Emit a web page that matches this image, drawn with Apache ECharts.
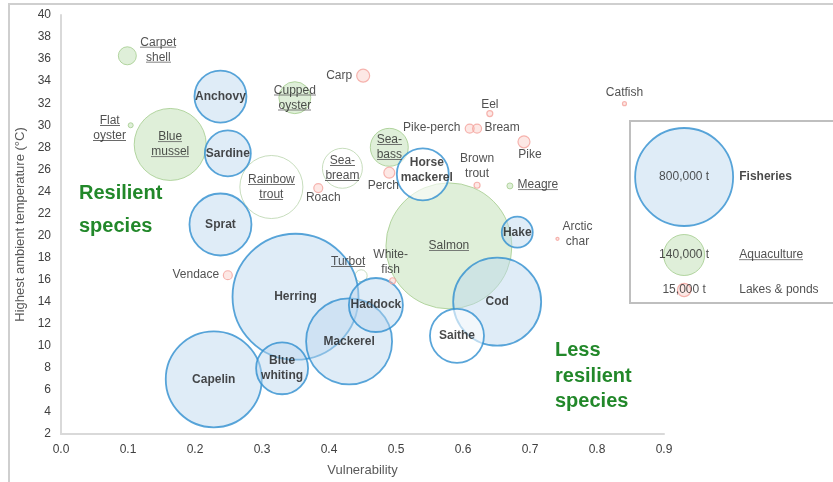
<!DOCTYPE html>
<html>
<head>
<meta charset="utf-8">
<script src="https://cdn.jsdelivr.net/npm/echarts@6/dist/echarts.min.js"></script>
<style>
  html, body { margin: 0; padding: 0; background: #fff; }
  #chart { width: 833px; height: 482px; }
</style>
</head>
<body>
<div id="chart"></div>
<script>
// fisheries
const fishNames = ['Anchovy', 'Sardine', 'Sprat', 'Herring', 'Capelin', 'Blue\nwhiting', 'Mackerel',
  'Haddock', 'Horse\nmackerel', 'Hake', 'Cod', 'Saithe'];
const fishVuln = [0.238, 0.249, 0.238, 0.35, 0.228, 0.33, 0.43, 0.47, 0.54, 0.681, 0.651, 0.591];
const fishTemp = [32.6, 27.45, 21.0, 14.45, 6.96, 7.96, 10.4, 13.7, 25.55, 20.3, 14.0, 10.9];
const fishTonnes = [225000, 176000, 320000, 1322000, 768000, 225000, 616000, 243000, 225000, 80000, 645000, 243000];

// aquaculture
const aquaNames = ['Carpet\nshell', 'Cupped\noyster', 'Flat\noyster', 'Blue\nmussel', 'Sea-\nbass',
  'Sea-\nbream', 'Rainbow\ntrout', 'Salmon', 'Turbot', 'Meagre'];
const aquaVuln = [0.099, 0.349, 0.104, 0.163, 0.49, 0.42, 0.314, 0.579, 0.448, 0.67];
const aquaTemp = [36.3, 32.5, 30.0, 28.26, 28.0, 26.1, 24.4, 19.06, 16.35, 24.5];
const aquaTonnes = [27000, 85000, 2100, 432000, 120000, 133000, 331000, 1322000, 12000, 3000];

// lakes & ponds
const lakeNames = ['Carp', 'Roach', 'Perch', 'Vendace', 'White-\nfish', 'Pike-perch', 'Bream', 'Eel',
  'Pike', 'Brown\ntrout', 'Catfish', 'Arctic\nchar'];
const lakeVuln = [0.451, 0.384, 0.49, 0.249, 0.495, 0.61, 0.621, 0.64, 0.691, 0.621, 0.841, 0.741];
const lakeTemp = [34.5, 24.3, 25.7, 16.4, 15.9, 29.7, 29.7, 31.06, 28.5, 24.56, 31.96, 19.7];
const lakeTonnes = [14000, 6700, 10000, 6700, 3000, 6700, 6700, 3000, 12000, 3000, 1300, 750];

// size legend
const legendNames = ['Fisheries', 'Aquaculture', 'Lakes & ponds'];
const legendTonnes = [800000, 140000, 15000];
const legendLabels = ['800,000 t', '140,000 t', '15,000 t'];

const xTicks = [0, 0.9, 0.1];
const yTicks = [2, 40, 2];

// label placement (pixel offsets from bubble centre)
const labelOffset = {
  'Carpet\nshell': [31, -6], 'Flat\noyster': [-21, 3], 'Turbot': [-13, -14], 'Meagre': [28, -1],
  'Carp': [-24, 0], 'Roach': [5, 10], 'Perch': [-6, 13], 'Vendace': [-32, -1], 'White-\nfish': [-2, -19],
  'Pike-perch': [-38, -1], 'Bream': [25, -1], 'Eel': [0, -9], 'Pike': [6, 13], 'Brown\ntrout': [0, -19],
  'Catfish': [0, -11], 'Arctic\nchar': [20, -5], 'Horse\nmackerel': [4, -4]
};
const openCircles = ['Horse\nmackerel', 'Saithe', 'Rainbow\ntrout', 'Sea-\nbream', 'Turbot'];

const FONT = '"Liberation Sans", Arial, sans-serif';
const sizeOf = t => 98 * Math.sqrt(t / 800000);

const FISH = { color: 'rgba(189,215,238,0.6)', borderColor: '#2f8fd0', borderWidth: 1.8 };
const AQUA = { color: 'rgba(175,215,160,0.5)', borderColor: '#a3cc8c', borderWidth: 1 };
const LAKE = { color: 'rgba(250,190,182,0.45)', borderColor: '#f4a39c', borderWidth: 1.2 };

// underline: a 1px-wide strip stretched under each text token
const ulCanvas = document.createElement('canvas');
ulCanvas.width = 1;
ulCanvas.height = 15;
const ulCtx = ulCanvas.getContext('2d');
ulCtx.fillStyle = '#555';
ulCtx.fillRect(0, 13, 1, 1);
const underlineRich = { u: { fontSize: 12, color: '#262626', lineHeight: 15, backgroundColor: { image: ulCanvas } } };
const underlined = n => n.split('\n').map(s => '{u|' + s + '}').join('\n');

function build(names, xs, ys, ts, openStyle) {
  return names.map((n, i) => {
    const item = { name: n, value: [xs[i], ys[i], ts[i]] };
    const off = labelOffset[n];
    if (off) item.label = { offset: off };
    if (openCircles.indexOf(n) >= 0) item.itemStyle = openStyle;
    return item;
  });
}

const chart = echarts.init(document.getElementById('chart'));
chart.setOption({
  animation: false,
  textStyle: { fontFamily: FONT },
  grid: [
    { left: 61, right: 169, top: 15, bottom: 46 },
    { left: 630, top: 121, width: 210, height: 182 }
  ],
  xAxis: [{
    type: 'value', min: xTicks[0], max: xTicks[1], interval: xTicks[2],
    name: 'Vulnerability', nameLocation: 'middle', nameGap: 30,
    nameTextStyle: { fontSize: 13, color: '#595959' },
    axisLine: { lineStyle: { color: '#d9d9d9', width: 2 } },
    axisTick: { show: false }, splitLine: { show: false },
    axisLabel: { fontSize: 12, color: '#404040', margin: 10, formatter: v => v.toFixed(1) }
  }, {
    gridIndex: 1, type: 'value', min: 0, max: 210, show: false
  }],
  yAxis: [{
    type: 'value', min: yTicks[0], max: yTicks[1], interval: yTicks[2],
    name: 'Highest ambient temperature (°C)', nameLocation: 'middle', nameGap: 29,
    nameTextStyle: { fontSize: 13, color: '#595959' },
    axisLine: { show: true, lineStyle: { color: '#d9d9d9', width: 2 } },
    axisTick: { show: false }, splitLine: { show: false },
    axisLabel: { fontSize: 12, color: '#404040', margin: 10 }
  }, {
    gridIndex: 1, type: 'value', min: 0, max: 182, inverse: true, show: false
  }],
  graphic: [
    { type: 'rect', z: -10, shape: { x: 9, y: 4, width: 840, height: 520 },
      style: { fill: 'none', stroke: '#cfcfcf', lineWidth: 2 } },
    { type: 'rect', z: -5, shape: { x: 630, y: 121, width: 220, height: 182 },
      style: { fill: '#fff', stroke: '#bfbfbf', lineWidth: 2 } },
    { type: 'text', left: 79, top: 177, z: 10,
      style: { text: 'Resilient\nspecies', font: 'bold 20px ' + FONT, fill: '#22882a', lineHeight: 33 } },
    { type: 'text', left: 555, top: 338, z: 10,
      style: { text: 'Less\nresilient\nspecies', font: 'bold 20px ' + FONT, fill: '#22882a', lineHeight: 25.5 } }
  ],
  series: [
    {
      name: 'Aquaculture', type: 'scatter', clip: false,
      symbolSize: d => sizeOf(d[2]),
      itemStyle: AQUA,
      label: { show: true, position: 'inside', fontSize: 12, color: '#262626', lineHeight: 15,
        formatter: p => underlined(p.name), rich: underlineRich },
      data: build(aquaNames, aquaVuln, aquaTemp, aquaTonnes,
        { color: 'rgba(255,255,255,0.85)', borderColor: '#b9d4ad', borderWidth: 1 })
    },
    {
      name: 'Fisheries', type: 'scatter', clip: false,
      symbolSize: d => sizeOf(d[2]),
      itemStyle: FISH,
      label: { show: true, position: 'inside', fontSize: 12, fontWeight: 'bold', color: '#1a1a1a', lineHeight: 15,
        formatter: p => p.name },
      data: build(fishNames, fishVuln, fishTemp, fishTonnes,
        { color: 'rgba(255,255,255,0.75)', borderColor: '#2f8fd0', borderWidth: 1.8 })
    },
    {
      name: 'Lakes & ponds', type: 'scatter', clip: false,
      symbolSize: d => sizeOf(d[2]),
      itemStyle: LAKE,
      label: { show: true, position: 'inside', fontSize: 12, color: '#262626', lineHeight: 15,
        formatter: p => p.name },
      data: build(lakeNames, lakeVuln, lakeTemp, lakeTonnes, null)
    },
    {
      name: 'legendBubbles', type: 'scatter', xAxisIndex: 1, yAxisIndex: 1, clip: false,
      symbolSize: d => sizeOf(d[2]),
      label: { show: true, position: 'inside', fontSize: 12, color: '#262626', formatter: p => legendLabels[p.dataIndex] },
      data: legendTonnes.map((t, i) => ({
        value: [56, [56, 134, 169][i], t],
        itemStyle: [FISH, AQUA, LAKE][i]
      }))
    },
    {
      name: 'legendNames', type: 'scatter', xAxisIndex: 1, yAxisIndex: 1, clip: false,
      symbolSize: 0,
      label: {
        show: true, position: 'right', distance: 0, fontSize: 12, color: '#262626',
        formatter: p => p.dataIndex === 0 ? '{b|' + p.name + '}' : p.dataIndex === 1 ? underlined(p.name) : p.name,
        rich: Object.assign({ b: { fontSize: 12, fontWeight: 'bold', color: '#1a1a1a' } }, underlineRich)
      },
      data: legendNames.map((n, i) => ({ name: n, value: [113, [56, 134, 169][i]] }))
    }
  ]
});
</script>
</body>
</html>
